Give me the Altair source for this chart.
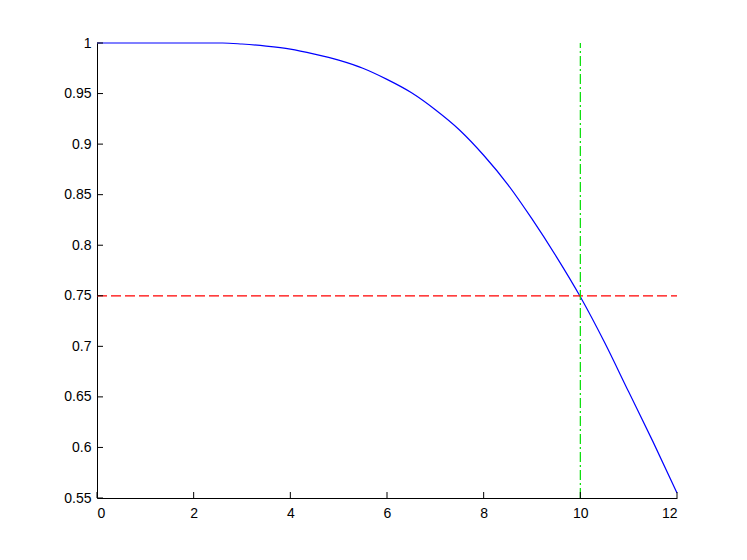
import altair as alt
import pandas as pd

# Curve values
curve_x = [0, 2.6, 3.0, 3.5, 4.0, 4.5, 5.0, 5.5, 6.0, 6.5, 7.0, 7.5, 8.0, 8.5, 9.0, 9.5, 10.0, 10.5, 11.0, 11.5, 12.0]
curve_y = [1.0, 1.0, 0.999, 0.997, 0.994, 0.989, 0.983, 0.975, 0.964, 0.951, 0.934, 0.914, 0.889, 0.860, 0.826, 0.789, 0.749, 0.704, 0.655, 0.606, 0.555]

x_ticks = [0, 2, 4, 6, 8, 10, 12]
y_ticks = [0.55, 0.6, 0.65, 0.7, 0.75, 0.8, 0.85, 0.9, 0.95, 1.0]

h_level = 0.75
v_level = 10

df = pd.DataFrame({"x": curve_x, "y": curve_y})
hdf = pd.DataFrame({"x": [0, 12], "y": [h_level, h_level]})
vdf = pd.DataFrame({"x": [v_level, v_level], "y": [0.55, 1.0]})
xt = pd.DataFrame({"x": x_ticks})
yt = pd.DataFrame({"y": y_ticks})

FONT = "Liberation Sans"

xscale = alt.Scale(domain=[0, 12], nice=False, zero=False)
yscale = alt.Scale(domain=[0.55, 1.0], nice=False, zero=False)

xaxis = alt.Axis(values=x_ticks, title=None, grid=False, tickSize=0, labelPadding=8,
                 labelFont=FONT, labelFontSize=14, labelColor="black",
                 domainColor="black", labelExpr="format(datum.value, '')")
yaxis = alt.Axis(values=y_ticks, title=None, grid=False, tickSize=0, labelPadding=6,
                 labelFont=FONT, labelFontSize=14, labelColor="black",
                 domainColor="black", labelExpr="format(datum.value, '')")

line = alt.Chart(df).mark_line(color="#0000ff", strokeWidth=1.2, interpolate="monotone").encode(
    x=alt.X("x:Q", scale=xscale, axis=xaxis),
    y=alt.Y("y:Q", scale=yscale, axis=yaxis),
)

hline = alt.Chart(hdf).mark_line(color="#ff0000", strokeWidth=1.2, strokeDash=[10, 4]).encode(
    x=alt.X("x:Q", scale=xscale), y=alt.Y("y:Q", scale=yscale)
)

vline = alt.Chart(vdf).mark_line(color="#00dd00", strokeWidth=1.2, strokeDash=[10, 3, 2, 3]).encode(
    x=alt.X("x:Q", scale=xscale), y=alt.Y("y:Q", scale=yscale)
)

xtick_marks = alt.Chart(xt).mark_rule(color="black").encode(
    x=alt.X("x:Q", scale=xscale),
    y=alt.value(455), y2=alt.value(449),
)
ytick_marks = alt.Chart(yt).mark_rule(color="black").encode(
    y=alt.Y("y:Q", scale=yscale),
    x=alt.value(0), x2=alt.value(6),
)

chart = alt.layer(line, hline, vline, xtick_marks, ytick_marks).properties(
    width=580, height=455,
    autosize="none",
    background="white",
    padding={"left": 89, "top": 35, "right": 62, "bottom": 54},
).configure_view(strokeWidth=0, stroke=None)

chart.save("out.html", embed_options={"renderer": "svg", "actions": False})
